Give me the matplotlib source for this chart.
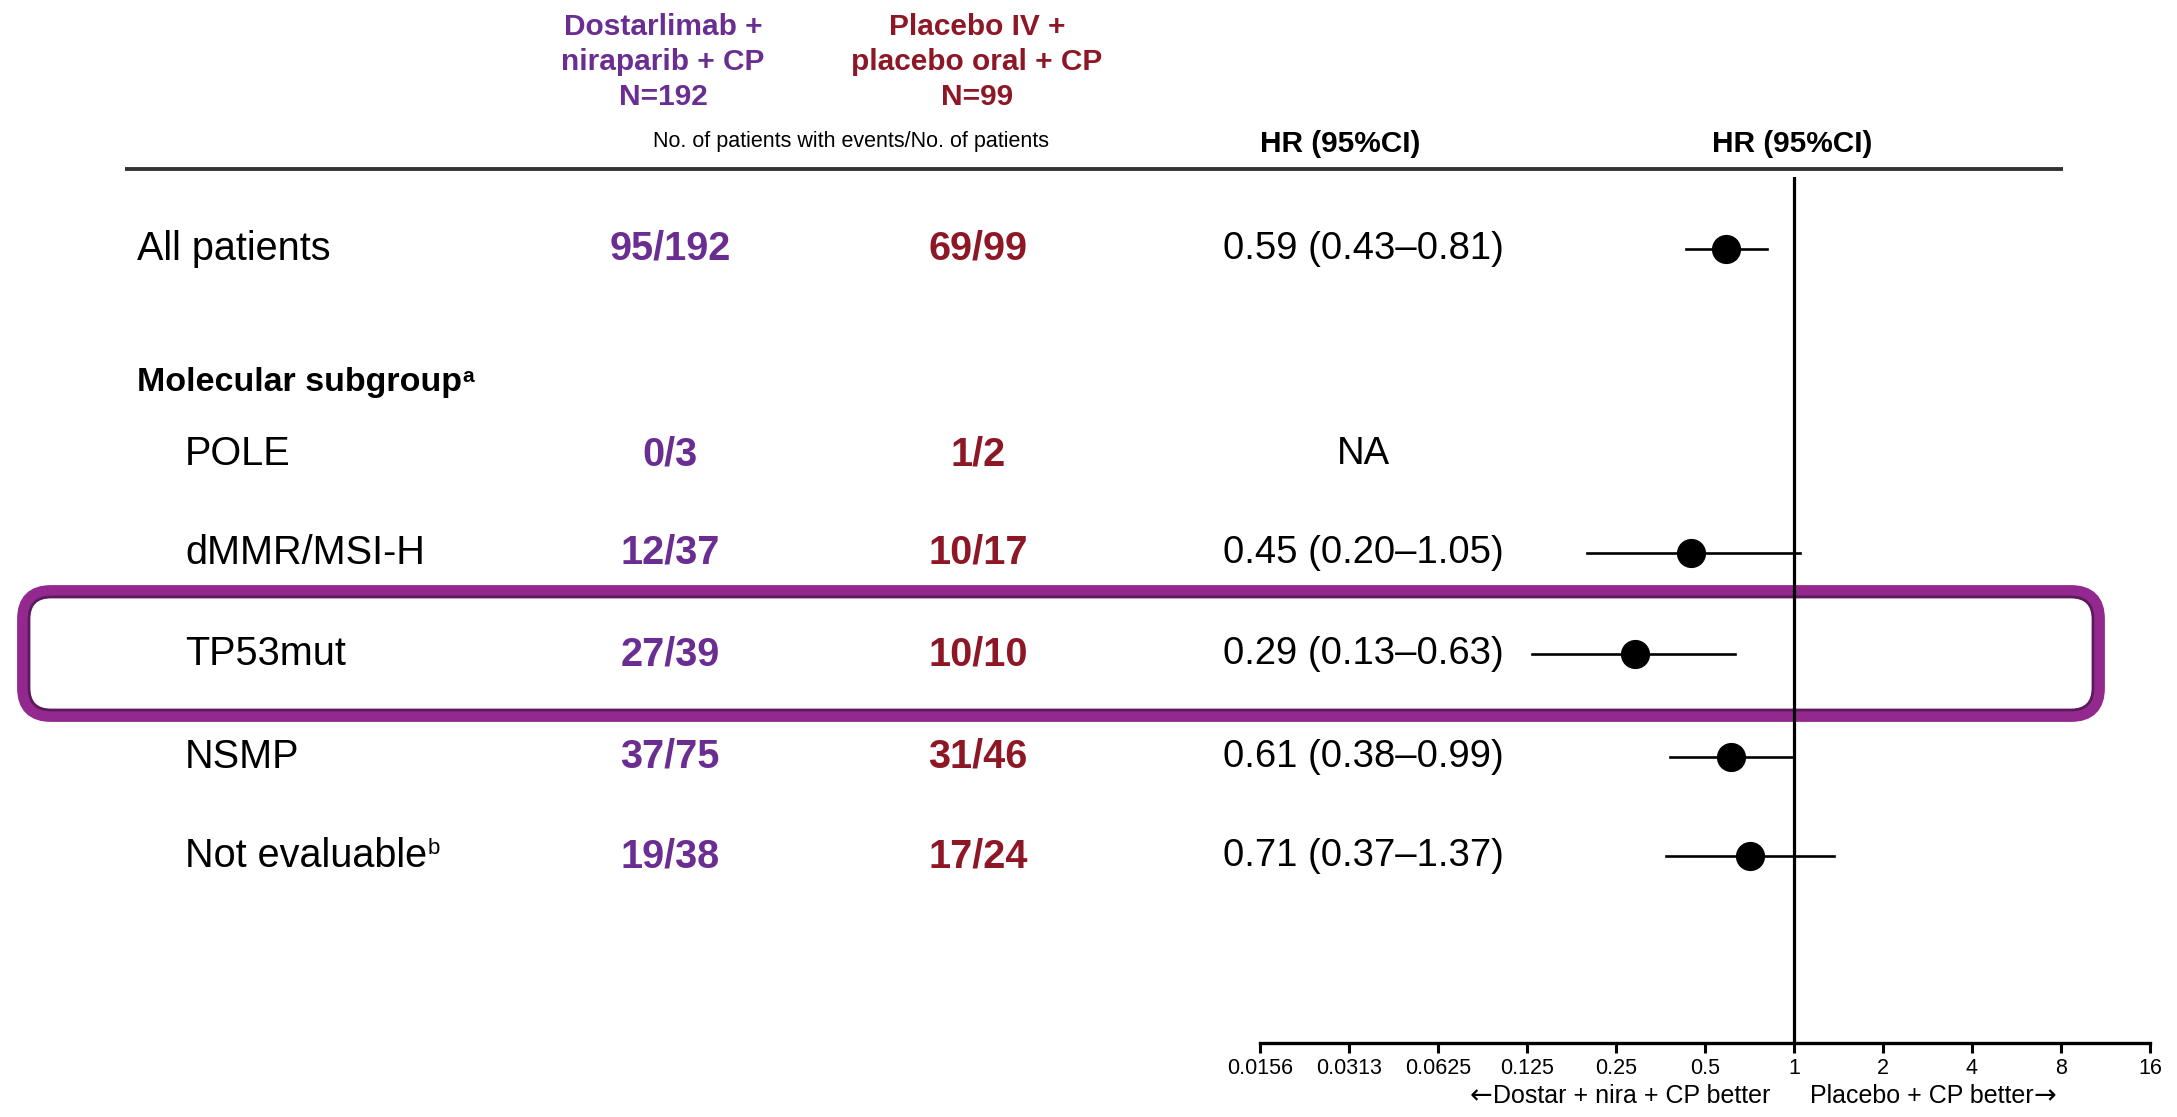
import numpy as np
import matplotlib
matplotlib.use("Agg")
import matplotlib.pyplot as plt
from matplotlib.patches import FancyBboxPatch

# subgroup table
labels = ["All patients", "POLE", "dMMR/MSI-H", "TP53mut", "NSMP", "Not evaluable"]
dostar_counts = ["95/192", "0/3", "12/37", "27/39", "37/75", "19/38"]
placebo_counts = ["69/99", "1/2", "10/17", "10/10", "31/46", "17/24"]
hr = [0.59, np.nan, 0.45, 0.29, 0.61, 0.71]
ci_low = [0.43, np.nan, 0.20, 0.13, 0.38, 0.37]
ci_high = [0.81, np.nan, 1.05, 0.63, 0.99, 1.37]
ticks = [0.015625, 0.03125, 0.0625, 0.125, 0.25, 0.5, 1, 2, 4, 8, 16]
tick_labels = ["0.0156", "0.0313", "0.0625", "0.125", "0.25", "0.5", "1", "2", "4", "8", "16"]

PURPLE = "#6a2d91"
RED = "#8e1726"
plt.rcParams["font.family"] = ["Liberation Sans", "DejaVu Sans"]

W, H = 2177, 1117
fig = plt.figure(figsize=(W / 100, H / 100), dpi=100)
ax = fig.add_axes([0, 0, 1, 1])
ax.set_xlim(0, W)
ax.set_ylim(H, 0)
ax.axis("off")

# row layout (pixels from top)
row_y = [249, 454, 553, 654, 757, 856]
label_x = [137, 185, 185, 185, 185, 185]
col1_x, col2_x, hr_x = 670, 978, 1363
axis_y, top_y = 1043, 177

# column headers
ax.text(663, 62, "Dostarlimab +\nniraparib + CP\nN=192", color=PURPLE,
        fontsize=21.5, fontweight="bold", ha="center", va="center", linespacing=1.3)
ax.text(977, 62, "Placebo IV +\nplacebo oral + CP\nN=99", color=RED,
        fontsize=21.5, fontweight="bold", ha="center", va="center", linespacing=1.3)
ax.text(851, 141, "No. of patients with events/No. of patients",
        fontsize=15.5, ha="center", va="center")
ax.text(1340, 144, "HR (95%CI)", fontsize=21.5, fontweight="bold",
        ha="center", va="center")
ax.text(1792, 144, "HR (95%CI)", fontsize=21.5, fontweight="bold",
        ha="center", va="center")
ax.plot([125, 2063], [169, 169], color="#333333", lw=2.8, solid_capstyle="butt")

# highlight around TP53mut row
box = FancyBboxPatch((23, 591), 2076, 125, boxstyle="round,pad=0,rounding_size=28",
                     fill=False, ec="#93288f", lw=8.5, zorder=1)
ax.add_patch(box)
inner = FancyBboxPatch((29, 597), 2064, 113, boxstyle="round,pad=0,rounding_size=22",
                       fill=False, ec="#5c1a5c", lw=2.0, zorder=1)
ax.add_patch(inner)

# table rows
sub_a = ax.text(137, 382, "Molecular subgroup", fontsize=24.5, fontweight="bold",
                ha="left", va="center")
ax.annotate("a", xy=(1, 0.98), xycoords=sub_a, xytext=(0, 0), textcoords="offset points",
            fontsize=15, fontweight="bold", ha="left", va="top")

for i, lab in enumerate(labels):
    t = ax.text(label_x[i], row_y[i], lab, fontsize=28.5, ha="left", va="center")
    if lab == "Not evaluable":
        ax.annotate("b", xy=(1, 0.98), xycoords=t, xytext=(0.5, 0),
                    textcoords="offset points", fontsize=16, ha="left", va="top")
    ax.text(col1_x, row_y[i], dostar_counts[i], color=PURPLE, fontsize=28.5,
            fontweight="bold", ha="center", va="center")
    ax.text(col2_x, row_y[i], placebo_counts[i], color=RED, fontsize=28.5,
            fontweight="bold", ha="center", va="center")
    if np.isnan(hr[i]):
        txt = "NA"
    else:
        txt = f"{hr[i]:.2f} ({ci_low[i]:.2f}\u2013{ci_high[i]:.2f})"
    ax.text(hr_x, row_y[i], txt, fontsize=27.5, ha="center", va="center")

# forest panel
x0, x1 = 1260, 2150
fax = fig.add_axes([x0 / W, 1 - axis_y / H, (x1 - x0) / W, (axis_y - top_y) / H])
fax.patch.set_alpha(0)
fax.set_xscale("log", base=2)
fax.set_xlim(ticks[0], ticks[-1])
fax.set_ylim(axis_y, top_y)
for s in ["left", "right", "top"]:
    fax.spines[s].set_visible(False)
fax.spines["bottom"].set_linewidth(2.4)
fax.set_yticks([])
fax.set_xticks(ticks)
fax.set_xticklabels(tick_labels)
fax.xaxis.set_minor_locator(matplotlib.ticker.NullLocator())
fax.tick_params(axis="x", length=7, width=2.2, pad=4, labelsize=15.5)
fax.axvline(1, color="black", lw=2.3, zorder=2)

for i in range(len(labels)):
    if np.isnan(hr[i]):
        continue
    fax.plot([ci_low[i], ci_high[i]], [row_y[i], row_y[i]], color="black", lw=1.9, zorder=3)
    fax.plot(hr[i], row_y[i], "o", color="black", ms=20, zorder=4)

# direction labels under the axis
left_lbl = ax.text(1770, 1096, "Dostar + nira + CP better", fontsize=18,
                   ha="right", va="center")
ax.annotate("\u2190", xy=(0, 0.5), xycoords=left_lbl, fontsize=19.5,
            family="DejaVu Sans", ha="right", va="center")
right_lbl = ax.text(1810, 1096, "Placebo + CP better", fontsize=18,
                    ha="left", va="center")
ax.annotate("\u2192", xy=(1, 0.5), xycoords=right_lbl, fontsize=19.5,
            family="DejaVu Sans", ha="left", va="center")

fig.savefig("out.png", dpi=100)
